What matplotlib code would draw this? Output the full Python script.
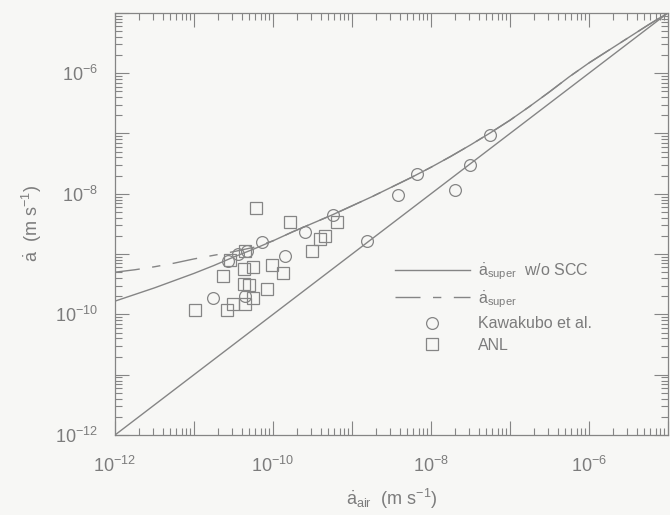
import numpy as np
import matplotlib
matplotlib.use('Agg')
import matplotlib.pyplot as plt
from matplotlib.ticker import FixedLocator, LogLocator, NullFormatter

plt.rcParams.update({
    'font.family': ['Liberation Sans', 'DejaVu Sans'],
    'mathtext.fontset': 'custom',
    'mathtext.rm': 'Liberation Sans',
    'mathtext.it': 'Liberation Sans',
    'mathtext.default': 'regular',
})

INK = '#858585'
TXT = '#7c7c7c'

# ─── data (log10 values, m/s) ───────────────────────────────────────────────
# air-environment rate = supercritical-water rate reference line
ref_x = [-12.0, -5.0]
ref_y = [-12.0, -5.0]

# model without stress-corrosion cracking contribution
wo_scc_x = [-12.0, -11.75, -11.5, -11.25, -11.0, -10.75, -10.5, -10.25, -10.0, -9.75,
            -9.5, -9.25, -9.0, -8.75, -8.5, -8.25, -8.0, -7.75, -7.5, -7.25,
            -7.0, -6.75, -6.5, -6.25, -6.0, -5.75, -5.5, -5.25, -5.0]
wo_scc_y = [-9.78, -9.67, -9.56, -9.44, -9.32, -9.19, -9.05, -8.92, -8.78, -8.63,
            -8.49, -8.35, -8.20, -8.05, -7.89, -7.73, -7.56, -7.38, -7.19, -6.99,
            -6.78, -6.55, -6.31, -6.06, -5.83, -5.62, -5.41, -5.20, -5.0]

# full model
super_x = [-12.0, -11.75, -11.5, -11.25, -11.0, -10.75, -10.5, -10.25, -10.0, -9.75,
           -9.5, -9.25, -9.0, -8.75, -8.5, -8.25, -8.0, -7.75, -7.5, -7.25,
           -7.0, -6.75, -6.5, -6.25, -6.0, -5.75, -5.5, -5.25, -5.0]
super_y = [-9.30, -9.26, -9.21, -9.15, -9.08, -9.02, -8.96, -8.89, -8.78, -8.63,
           -8.49, -8.35, -8.20, -8.05, -7.89, -7.73, -7.56, -7.38, -7.19, -6.99,
           -6.78, -6.55, -6.31, -6.06, -5.83, -5.62, -5.41, -5.20, -5.0]

kawakubo_x = [-10.76, -10.57, -10.44, -10.33, -10.14, -9.85, -9.59, -9.24, -8.81,
              -8.42, -8.18, -7.70, -7.51, -7.25, -10.35]
kawakubo_y = [-9.72, -9.12, -9.00, -8.95, -8.80, -9.03, -8.63, -8.35, -8.78,
              -8.02, -7.68, -7.93, -7.53, -7.02, -9.70]

anl_x = [-10.22, -10.99, -10.58, -10.63, -10.37, -10.25, -10.37, -10.30, -10.35, -10.25,
         -10.51, -10.08, -10.01, -9.87, -9.51, -9.41, -9.34, -9.19, -9.78, -10.35, -10.55]
anl_y = [-8.23, -9.93, -9.93, -9.37, -9.25, -9.22, -9.50, -9.52, -9.83, -9.72,
         -9.83, -9.58, -9.18, -9.32, -8.95, -8.75, -8.70, -8.47, -8.47, -8.95, -9.10]

decades = list(range(-12, -4))
labelled = [-12, -10, -8, -6]


def p(v):
    return 10.0 ** np.asarray(v)


fig = plt.figure(figsize=(6.7, 5.15), dpi=100, facecolor='#f7f7f5')
ax = fig.add_axes([0.1716, 0.1553, 0.8254, 0.8197])
ax.set_facecolor('#f7f7f5')

ax.plot(p(ref_x), p(ref_y), color=INK, lw=1.0)
ax.plot(p(wo_scc_x), p(wo_scc_y), color=INK, lw=1.0,
        label=r'$\dot{a}_{super}$  w/o SCC')
ax.plot(p(super_x), p(super_y), color=INK, lw=1.0, dashes=(18, 9, 6, 9),
        label=r'$\dot{a}_{super}$')
ax.plot(p(kawakubo_x), p(kawakubo_y), ls='none', marker='o', ms=8.5,
        mfc='none', mec=INK, mew=0.9, label='Kawakubo et al.')
ax.plot(p(anl_x), p(anl_y), ls='none', marker='s', ms=8,
        mfc='none', mec=INK, mew=0.9, label='ANL')

ax.set_xscale('log')
ax.set_yscale('log')
ax.set_xlim(1e-12, 1e-5)
ax.set_ylim(1e-12, 1e-5)

for axis in (ax.xaxis, ax.yaxis):
    axis.set_major_locator(FixedLocator(p(decades)))
    axis.set_minor_locator(LogLocator(base=10, subs=np.arange(2, 10), numticks=20))
    axis.set_minor_formatter(NullFormatter())
ticklabels = [rf'$10^{{{d}}}$' if d in labelled else '' for d in decades]
ax.set_xticklabels(ticklabels)
ax.set_yticklabels(ticklabels)

ax.tick_params(which='both', direction='in', top=True, right=True,
               colors=INK, labelcolor=TXT, labelsize=13, width=0.8)
ax.tick_params(which='major', length=10, pad=15)
ax.tick_params(axis='y', which='major', pad=12)
ax.tick_params(which='minor', length=5)
for s in ax.spines.values():
    s.set_color(INK)
    s.set_linewidth(0.9)

ax.set_xlabel(r'$\dot{a}_{air}$  (m s$^{-1}$)', color=TXT, fontsize=13, labelpad=8)
ax.set_ylabel(r'$\dot{a}$  (m s$^{-1}$)', color=TXT, fontsize=13, labelpad=8)

leg = ax.legend(loc='upper left', bbox_to_anchor=(0.48, 0.445), frameon=False,
                handlelength=4.7, handletextpad=0.5, labelspacing=0.42,
                fontsize=11.5, labelcolor=TXT)

fig.savefig('out.png', dpi=100, facecolor=fig.get_facecolor())
